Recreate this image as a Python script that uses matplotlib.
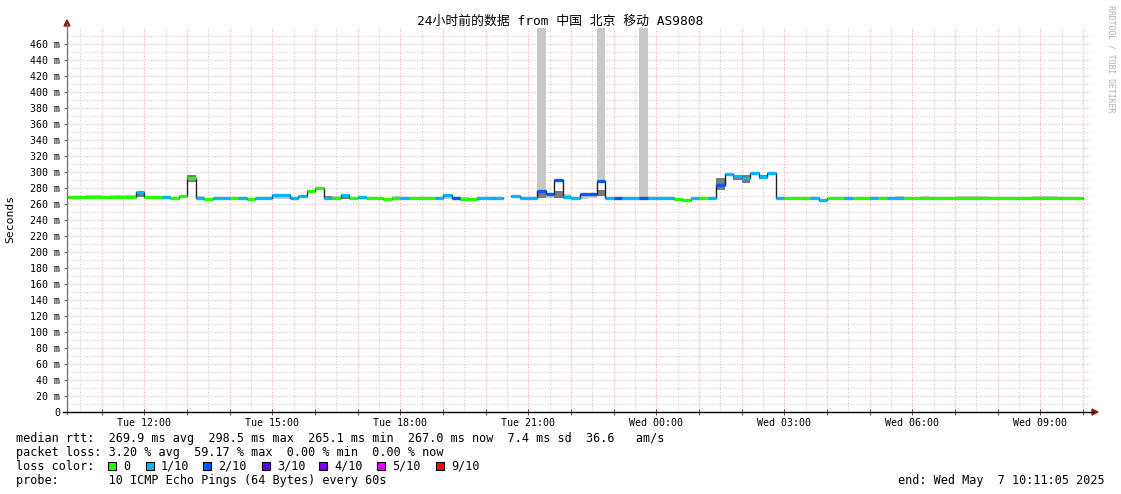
import matplotlib
matplotlib.use('Agg')
import matplotlib.pyplot as plt
import numpy as np
from matplotlib.lines import Line2D
from matplotlib.patches import Polygon, Rectangle

W, H = 1121, 494

# time in hours since Tue 00:00, 12 minute bins from Tue 10:12
t_start = 10 + 11 / 60 + 5 / 3600
t_end = t_start + 24
bin_start = 10.2
bin_step = 0.2

median_ms = [
    269, 269, 269, 269, 269, 269, 269, 269, 275, 269,
    269, 269, 267.5, 270, 293, 268, 266.6, 268, 268, 267,
    267.5, 265.8, 267.5, 268, 271, 271, 268, 270.5, 276, 280,
    267.5, 267, 271, 267, 269, 267, 267, 266, 267, 267,
    267, 267, 267, 267, 271, 267.5, 266.6, 266.6, 267, 267,
    267, np.nan, 270, 268, 268, 276.7, 272.5, 290, 268.5, 267,
    273, 272, 289, 267.5, 268, 267.5, 267, 268, 267, 267,
    267, 266.6, 265.5, 267, 267, 267, 283.3, 297.5, 295, 293,
    298.5, 293.7, 298.5, 267, 267, 267, 267, 267, 265.1, 267,
    267, 267, 267, 267, 267, 267.6, 267.6, 267, 267, 267,
    267, 267, 267, 267, 267, 267, 267, 267, 267, 267,
    267, 267, 267, 267, 267, 267, 267, 267, 267,
]
loss_idx = [
    0, 0, 0, 0, 0, 0, 0, 0, 1, 0,
    0, 1, 0, 0, 0, 1, 0, 1, 1, 0,
    1, 0, 1, 1, 1, 1, 1, 1, 0, 0,
    1, 0, 1, 0, 1, 0, 0, 0, 0, 1,
    0, 0, 0, 1, 1, 2, 0, 0, 1, 1,
    1, 0, 1, 1, 1, 2, 2, 2, 1, 1,
    2, 2, 2, 1, 2, 1, 1, 2, 1, 1,
    1, 0, 0, 1, 0, 1, 2, 1, 1, 1,
    1, 1, 1, 1, 0, 0, 0, 1, 1, 0,
    0, 1, 0, 0, 1, 0, 1, 1, 0, 0,
    0, 0, 0, 0, 0, 0, 0, 0, 0, 0,
    0, 0, 0, 0, 0, 0, 0, 0, 0,
]
loss_colors = ['#26ff00', '#00b8ff', '#0059ff', '#5e00ff', '#7e00ff', '#dd00ff', '#ff0000']
loss_labels = ['0', '1/10', '2/10', '3/10', '4/10', '5/10', '9/10']

# smoke: spread of the 10 pings per bin
light_bins = [2, 3, 5, 6, 7, 15, 24, 25, 31, 36, 38, 44, 46, 55, 56, 58, 60, 61, 62, 67,
              97, 100, 104, 105, 106, 107, 113, 114, 115]
light_lo = [269, 269, 269, 269, 269, 268, 266.5, 266.5, 267, 267, 267, 266.5, 267, 277, 267,
            269.5, 265.8, 268, 289, 269, 267, 267, 267, 267, 267, 267, 267, 267, 267]
light_hi = [271, 271, 271, 271, 271, 270, 269, 269, 270, 269, 270, 269, 269, 520, 272,
            272.5, 272, 270, 520, 520, 269.5, 269.5, 269.5, 269.5, 269.5, 269.5, 269.5, 269.5, 269.5]
dark_bins = [8, 14, 30, 32, 50, 55, 57, 62, 76, 78, 79, 81]
dark_lo = [269, 288, 267, 266.5, 265.5, 267, 267, 270, 277.5, 290, 286, 291]
dark_hi = [273, 296, 270, 268.5, 268.5, 275.5, 276, 277, 292.5, 296, 296, 296]

tick_hours = [12, 15, 18, 21, 24, 27, 30, 33]
tick_labels = ['Tue 12:00', 'Tue 15:00', 'Tue 18:00', 'Tue 21:00',
               'Wed 00:00', 'Wed 03:00', 'Wed 06:00', 'Wed 09:00']
y_ticks = list(range(0, 461, 20))

title = '24小时前的数据 from 中国 北京 移动 AS9808'
stat_lines = [
    'median rtt:  269.9 ms avg  298.5 ms max  265.1 ms min  267.0 ms now  7.4 ms sd  36.6   am/s',
    'packet loss: 3.20 % avg  59.17 % max  0.00 % min  0.00 % now',
    'loss color:',
    'probe:       10 ICMP Echo Pings (64 Bytes) every 60s',
]
end_text = 'end: Wed May  7 10:11:05 2025'

plt.rcParams['font.family'] = ['DejaVu Sans Mono', 'Noto Sans CJK SC']


def fx(x):
    return x / W


def fy(y):
    return 1 - y / H


fig = plt.figure(figsize=(W / 100, H / 100), dpi=100)
ax = fig.add_axes([fx(67), fy(412), 1024 / W, 384 / H])
ax.set_xlim(t_start, t_end)
ax.set_ylim(0, 480)
for s in ax.spines.values():
    s.set_visible(False)

# grid
dot = (0, (1, 1.5))
for h in np.arange(10.5, 34.5, 0.5):
    if h % 1 == 0:
        ax.axvline(h, color=(1, 0.45, 0.45, 0.6), lw=0.8, ls=dot, zorder=0)
    else:
        ax.axvline(h, color=(0.7, 0.7, 0.7, 0.6), lw=0.8, ls=dot, zorder=0)
for v in range(10, 480, 10):
    if v % 20 == 0:
        ax.axhline(v, color=(0.85, 0.55, 0.55, 0.55), lw=0.8, ls=dot, zorder=0)
    else:
        ax.axhline(v, color=(0.7, 0.7, 0.7, 0.55), lw=0.8, ls=dot, zorder=0)

# smoke
ax.bar([bin_start + bin_step * b for b in light_bins], np.subtract(light_hi, light_lo),
       bottom=light_lo, width=bin_step, align='edge', color='#c8c8c8', lw=0, zorder=1)
ax.bar([bin_start + bin_step * b for b in dark_bins], np.subtract(dark_hi, dark_lo),
       bottom=dark_lo, width=bin_step, align='edge', color='#7a7a7a', lw=0, zorder=1)

# median
starts = bin_start + bin_step * np.arange(len(median_ms))
vals = np.array(median_ms, dtype=float)
ax.step(np.append(starts, starts[-1] + bin_step), np.append(vals, vals[-1]),
        where='post', color='#202020', lw=1.0, zorder=2)
ax.hlines(vals, starts, starts + bin_step, colors=[loss_colors[i] for i in loss_idx],
          lw=2.4, zorder=3, capstyle='butt')

# ticks
ax.set_xticks(tick_hours)
ax.set_xticklabels(tick_labels)
ax.set_xticks(np.arange(11, 35, 1), minor=True)
ax.set_yticks(y_ticks)
ax.set_yticklabels([f'{v} m' if v else '0' for v in y_ticks])
ax.tick_params(axis='both', which='both', labelsize=7.2, length=2.5, width=0.7,
               direction='out', color='#555555', pad=2.5)
ax.tick_params(axis='x', which='both', direction='inout', length=4)

# axes lines and arrows
fig.add_artist(Line2D([fx(67), fx(67)], [fy(414), fy(24)], color='#777777', lw=1.0))
fig.add_artist(Line2D([fx(63), fx(1093)], [fy(412), fy(412)], color='black', lw=1.0))
fig.add_artist(Polygon([[fx(64), fy(26)], [fx(70), fy(26)], [fx(67), fy(20)]],
                       closed=True, color='#8b1a1a'))
fig.add_artist(Polygon([[fx(1092), fy(409)], [fx(1092), fy(415)], [fx(1098), fy(412)]],
                       closed=True, color='#8b1a1a'))

# texts
fig.text(fx(560), fy(21), title, ha='center', va='center', fontsize=9.25)
fig.text(fx(10), fy(219), 'Seconds', rotation=90, ha='center', va='center', fontsize=8.2)
fig.text(fx(1111), fy(5), 'RRDTOOL / TOBI OETIKER', rotation=270, ha='center', va='top',
         fontsize=5.9, color='#b0b0b0')
for i, line in enumerate(stat_lines):
    fig.text(fx(16), fy(438 + 14 * i), line, ha='left', va='center', fontsize=8.5)
fig.text(fx(1105), fy(480), end_text, ha='right', va='center', fontsize=8.5)

box_x = [108, 146, 203, 262, 319, 377, 436]
for bx, col, lab in zip(box_x, loss_colors, loss_labels):
    fig.add_artist(Rectangle((fx(bx), fy(470)), 8 / W, 8 / H, facecolor=col,
                             edgecolor='black', lw=0.8))
    fig.text(fx(bx + 15), fy(466), lab, ha='left', va='center', fontsize=8.5)

plt.savefig('out.png', dpi=100)
